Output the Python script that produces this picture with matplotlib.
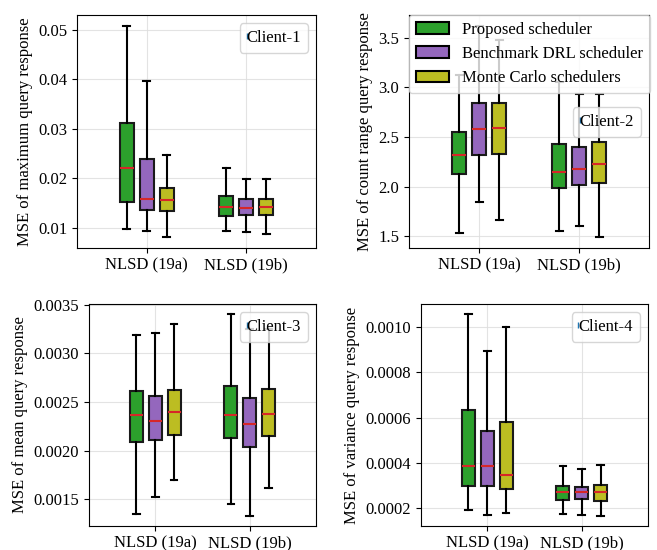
import matplotlib
matplotlib.use("Agg")
import matplotlib.pyplot as plt
from matplotlib.patches import Patch
from matplotlib.lines import Line2D

plt.rcParams['font.family'] = ['Liberation Serif', 'DejaVu Serif']
plt.rcParams['font.size'] = 12

groups = ["NLSD (19a)", "NLSD (19b)"]
schedulers = ["Proposed scheduler", "Benchmark DRL scheduler", "Monte Carlo schedulers"]
colors = ["#2ca02c", "#9467bd", "#bcbd22"]
ylabels = ["MSE of maximum query response", "MSE of count range query response",
           "MSE of mean query response", "MSE of variance query response"]
clients = ["Client-1", "Client-2", "Client-3", "Client-4"]

# stats per panel: [group][scheduler] = (min, q1, median, q3, max)
client1 = [[(0.0098, 0.0153, 0.0220, 0.0311, 0.0508),
            (0.0094, 0.0136, 0.0158, 0.0240, 0.0396),
            (0.0081, 0.0135, 0.0156, 0.0180, 0.0248)],
           [(0.0094, 0.0125, 0.0142, 0.0165, 0.0221),
            (0.0091, 0.0127, 0.0141, 0.0158, 0.0198),
            (0.0087, 0.0127, 0.0142, 0.0159, 0.0198)]]
client2 = [[(1.534, 2.130, 2.317, 2.549, 3.128),
            (1.845, 2.314, 2.585, 2.840, 3.624),
            (1.661, 2.327, 2.595, 2.847, 3.477)],
           [(1.550, 1.982, 2.147, 2.428, 3.05),
            (1.607, 2.013, 2.180, 2.398, 2.93),
            (1.487, 2.036, 2.230, 2.448, 2.93)]]
client3 = [[(0.001349, 0.002091, 0.002366, 0.002610, 0.003191),
            (0.001521, 0.002105, 0.002304, 0.002562, 0.003205),
            (0.001696, 0.002163, 0.002393, 0.002627, 0.003297)],
           [(0.001452, 0.002125, 0.002366, 0.002665, 0.003404),
            (0.001328, 0.002033, 0.002277, 0.002545, 0.00325),
            (0.001613, 0.002153, 0.002376, 0.002637, 0.00325)]]
client4 = [[(0.000188, 0.000296, 0.000384, 0.000633, 0.001059),
            (0.000170, 0.000296, 0.000384, 0.000539, 0.000896),
            (0.000179, 0.000283, 0.000345, 0.000579, 0.001000)],
           [(0.000173, 0.000234, 0.000268, 0.000295, 0.000387),
            (0.000167, 0.000239, 0.000268, 0.000293, 0.000372),
            (0.000164, 0.000231, 0.000268, 0.000301, 0.000388)]]
data = [client1, client2, client3, client4]

W, H = 657, 550
fig = plt.figure(figsize=(W / 100, H / 100), dpi=100)
rects = [(77, 15, 316, 248), (409, 15, 649, 248), (89, 304, 316, 526), (421, 304, 648, 526)]

offsets = [-0.2, 0.0, 0.2]
for k, (l, t, r, b) in enumerate(rects):
    ax = fig.add_axes([l / W, 1 - b / H, (r - l) / W, (b - t) / H])
    ax.set_axisbelow(True)
    ax.grid(True, color='#dddddd', linewidth=0.8, alpha=0.8)
    for g in range(2):
        for s in range(3):
            mn, q1, med, q3, mx = data[k][g][s]
            st = dict(whislo=mn, q1=q1, med=med, q3=q3, whishi=mx, fliers=[])
            ax.bxp([st], positions=[g + 1 + offsets[s]], widths=0.14, patch_artist=True,
                   boxprops=dict(facecolor=colors[s], edgecolor='#1a1a1a', linewidth=1.5),
                   whiskerprops=dict(color='black', linewidth=1.5),
                   capprops=dict(color='black', linewidth=1.5),
                   medianprops=dict(color='#d62728', linewidth=1.5),
                   manage_ticks=False)
    ax.set_xticks([1, 2])
    ax.set_xticklabels(groups)
    ax.set_xlim(0.3, 2.7)
    ax.set_ylabel(ylabels[k])
    ax.autoscale(axis='y')
    ax.margins(y=0.05)
    h = Line2D([], [], marker='|', linestyle='none', color='#1f77b4', markersize=4)
    if k == 1:
        leg_c = ax.legend([h], [clients[k]], loc='upper right', bbox_to_anchor=(1.0, 0.64),
                          handlelength=0, handletextpad=0, fontsize=12)
        ax.add_artist(leg_c)
        handles = [Patch(facecolor=c, edgecolor='black', linewidth=1.5) for c in colors]
        ax.legend(handles, schedulers, loc='upper left', borderaxespad=0, fontsize=12)
    else:
        ax.legend([h], [clients[k]], loc='upper right', handlelength=0, handletextpad=0,
                  fontsize=12)

fig.savefig("out.png", dpi=100)
